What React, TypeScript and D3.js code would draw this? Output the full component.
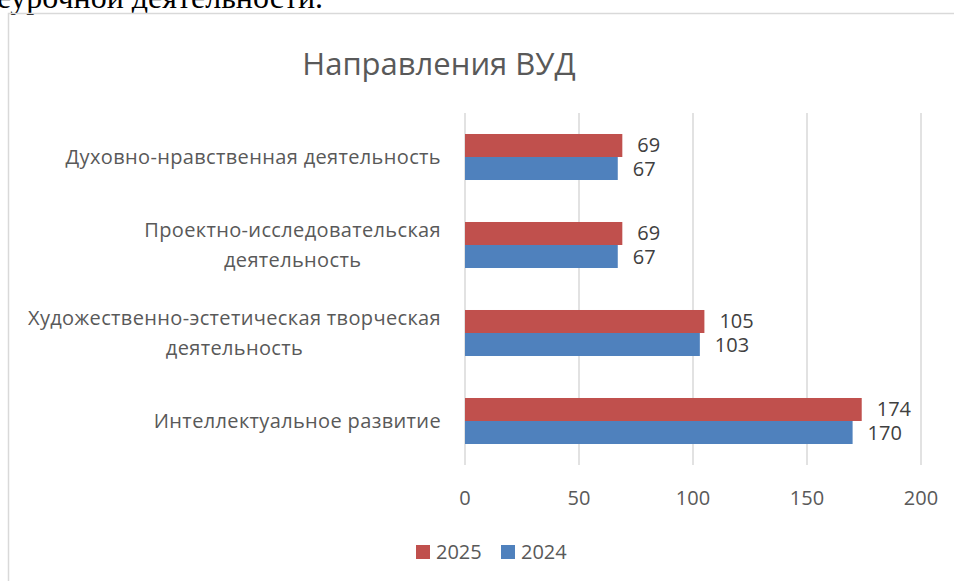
import React, { useEffect, useRef } from "react";
import * as d3 from "d3";

const categories = [
  "Духовно-нравственная деятельность",
  "Проектно-исследовательская деятельность",
  "Художественно-эстетическая творческая деятельность",
  "Интеллектуальное развитие",
];
const categoryLines = [
  ["Духовно-нравственная деятельность"],
  ["Проектно-исследовательская", "деятельность"],
  ["Художественно-эстетическая творческая", "деятельность"],
  ["Интеллектуальное развитие"],
];
const seriesNames = ["2025", "2024"];
const values2025 = [69, 69, 105, 174];
const values2024 = [67, 67, 103, 170];
const xTicks = [0, 50, 100, 150, 200];
const titleText = "Направления ВУД";
const topText = "еурочной деятельности.";

const W = 954;
const H = 581;
const FONT = "'Open Sans', Roboto, 'Noto Sans', sans-serif";
const FS = 20;
const LS = 0.35;

export default function App() {
  const ref = useRef<SVGSVGElement | null>(null);

  useEffect(() => {
    const svg = d3.select(ref.current);
    svg.selectAll("*").remove();

    // page text above the chart
    svg
      .append("text")
      .attr("x", 323)
      .attr("y", 8)
      .attr("text-anchor", "end")
      .attr("font-family", "'Liberation Serif', 'Times New Roman', serif")
      .attr("font-size", 32)
      .attr("fill", "#000")
      .text(topText);

    // frame
    svg
      .append("path")
      .attr("d", `M8.5,${H + 5} V13.5 H${W + 5}`)
      .attr("fill", "none")
      .attr("stroke", "#d9d9d9")
      .attr("stroke-width", 1.5);

    const x = d3.scaleLinear().domain([0, 200]).range([465, 921]);
    const y = d3.scaleBand<string>().domain(categories).range([113, 465]);
    const bw = y.bandwidth();
    const sub = d3
      .scaleBand<string>()
      .domain(seriesNames)
      .range([bw * 0.2386, bw * 0.7614]);

    // title
    svg
      .append("text")
      .attr("x", 439)
      .attr("y", 75)
      .attr("text-anchor", "middle")
      .attr("font-family", FONT)
      .attr("font-size", 31)
      .attr("fill", "#595959")
      .text(titleText);

    // gridlines
    svg
      .append("g")
      .selectAll("line")
      .data(xTicks)
      .join("line")
      .attr("x1", (d) => x(d))
      .attr("x2", (d) => x(d))
      .attr("y1", 113)
      .attr("y2", 465)
      .attr("stroke", "#d9d9d9")
      .attr("stroke-width", 1.5);

    // tick labels
    svg
      .append("g")
      .selectAll("text")
      .data(xTicks)
      .join("text")
      .attr("x", (d) => x(d))
      .attr("y", 505)
      .attr("text-anchor", "middle")
      .attr("font-family", FONT)
      .attr("font-size", FS)
      .attr("fill", "#595959")
      .text((d) => String(d));

    const series = [
      { name: "2025", values: values2025, color: "#C0504D" },
      { name: "2024", values: values2024, color: "#4F81BD" },
    ];

    series.forEach((s) => {
      const g = svg.append("g");
      g.selectAll("rect")
        .data(categories)
        .join("rect")
        .attr("x", x(0))
        .attr("y", (c) => (y(c) as number) + (sub(s.name) as number))
        .attr("width", (c, i) => x(s.values[i]) - x(0))
        .attr("height", sub.bandwidth())
        .attr("fill", s.color);
      g.selectAll("text")
        .data(categories)
        .join("text")
        .attr("x", (c, i) => x(s.values[i]) + 15)
        .attr(
          "y",
          (c) =>
            (y(c) as number) + (sub(s.name) as number) + sub.bandwidth() / 2 + 7
        )
        .attr("font-family", FONT)
        .attr("font-size", FS)
        .attr("fill", "#404040")
        .text((c, i) => String(s.values[i]));
    });

    // category labels
    const labelRight = 441;
    categories.forEach((c, i) => {
      const lines = categoryLines[i];
      const center = (y(c) as number) + bw / 2;
      const g = svg.append("g");
      const texts = lines.map((ln, j) =>
        g
          .append("text")
          .attr("font-family", FONT)
          .attr("font-size", FS)
          .attr("letter-spacing", LS)
          .attr("fill", "#595959")
          .attr("text-anchor", "middle")
          .attr("y", center + 7 + (j - (lines.length - 1) / 2) * 30)
          .text(ln)
      );
      const widths = texts.map((t) => (t.node() as SVGTextElement).getComputedTextLength());
      const maxW = Math.max(...widths);
      texts.forEach((t) => t.attr("x", labelRight - maxW / 2));
    });

    // legend
    const legend = svg.append("g");
    const legendItems = [
      { name: "2025", color: "#C0504D", x: 416 },
      { name: "2024", color: "#4F81BD", x: 501 },
    ];
    legendItems.forEach((li) => {
      legend
        .append("rect")
        .attr("x", li.x)
        .attr("y", 545)
        .attr("width", 14)
        .attr("height", 14)
        .attr("fill", li.color);
      legend
        .append("text")
        .attr("x", li.x + 20)
        .attr("y", 559)
        .attr("font-family", FONT)
        .attr("font-size", FS)
        .attr("fill", "#595959")
        .text(li.name);
    });
  }, []);

  return (
    <svg
      ref={ref}
      width={W}
      height={H}
      style={{ position: "absolute", left: 0, top: 0, background: "#fff" }}
    />
  );
}
